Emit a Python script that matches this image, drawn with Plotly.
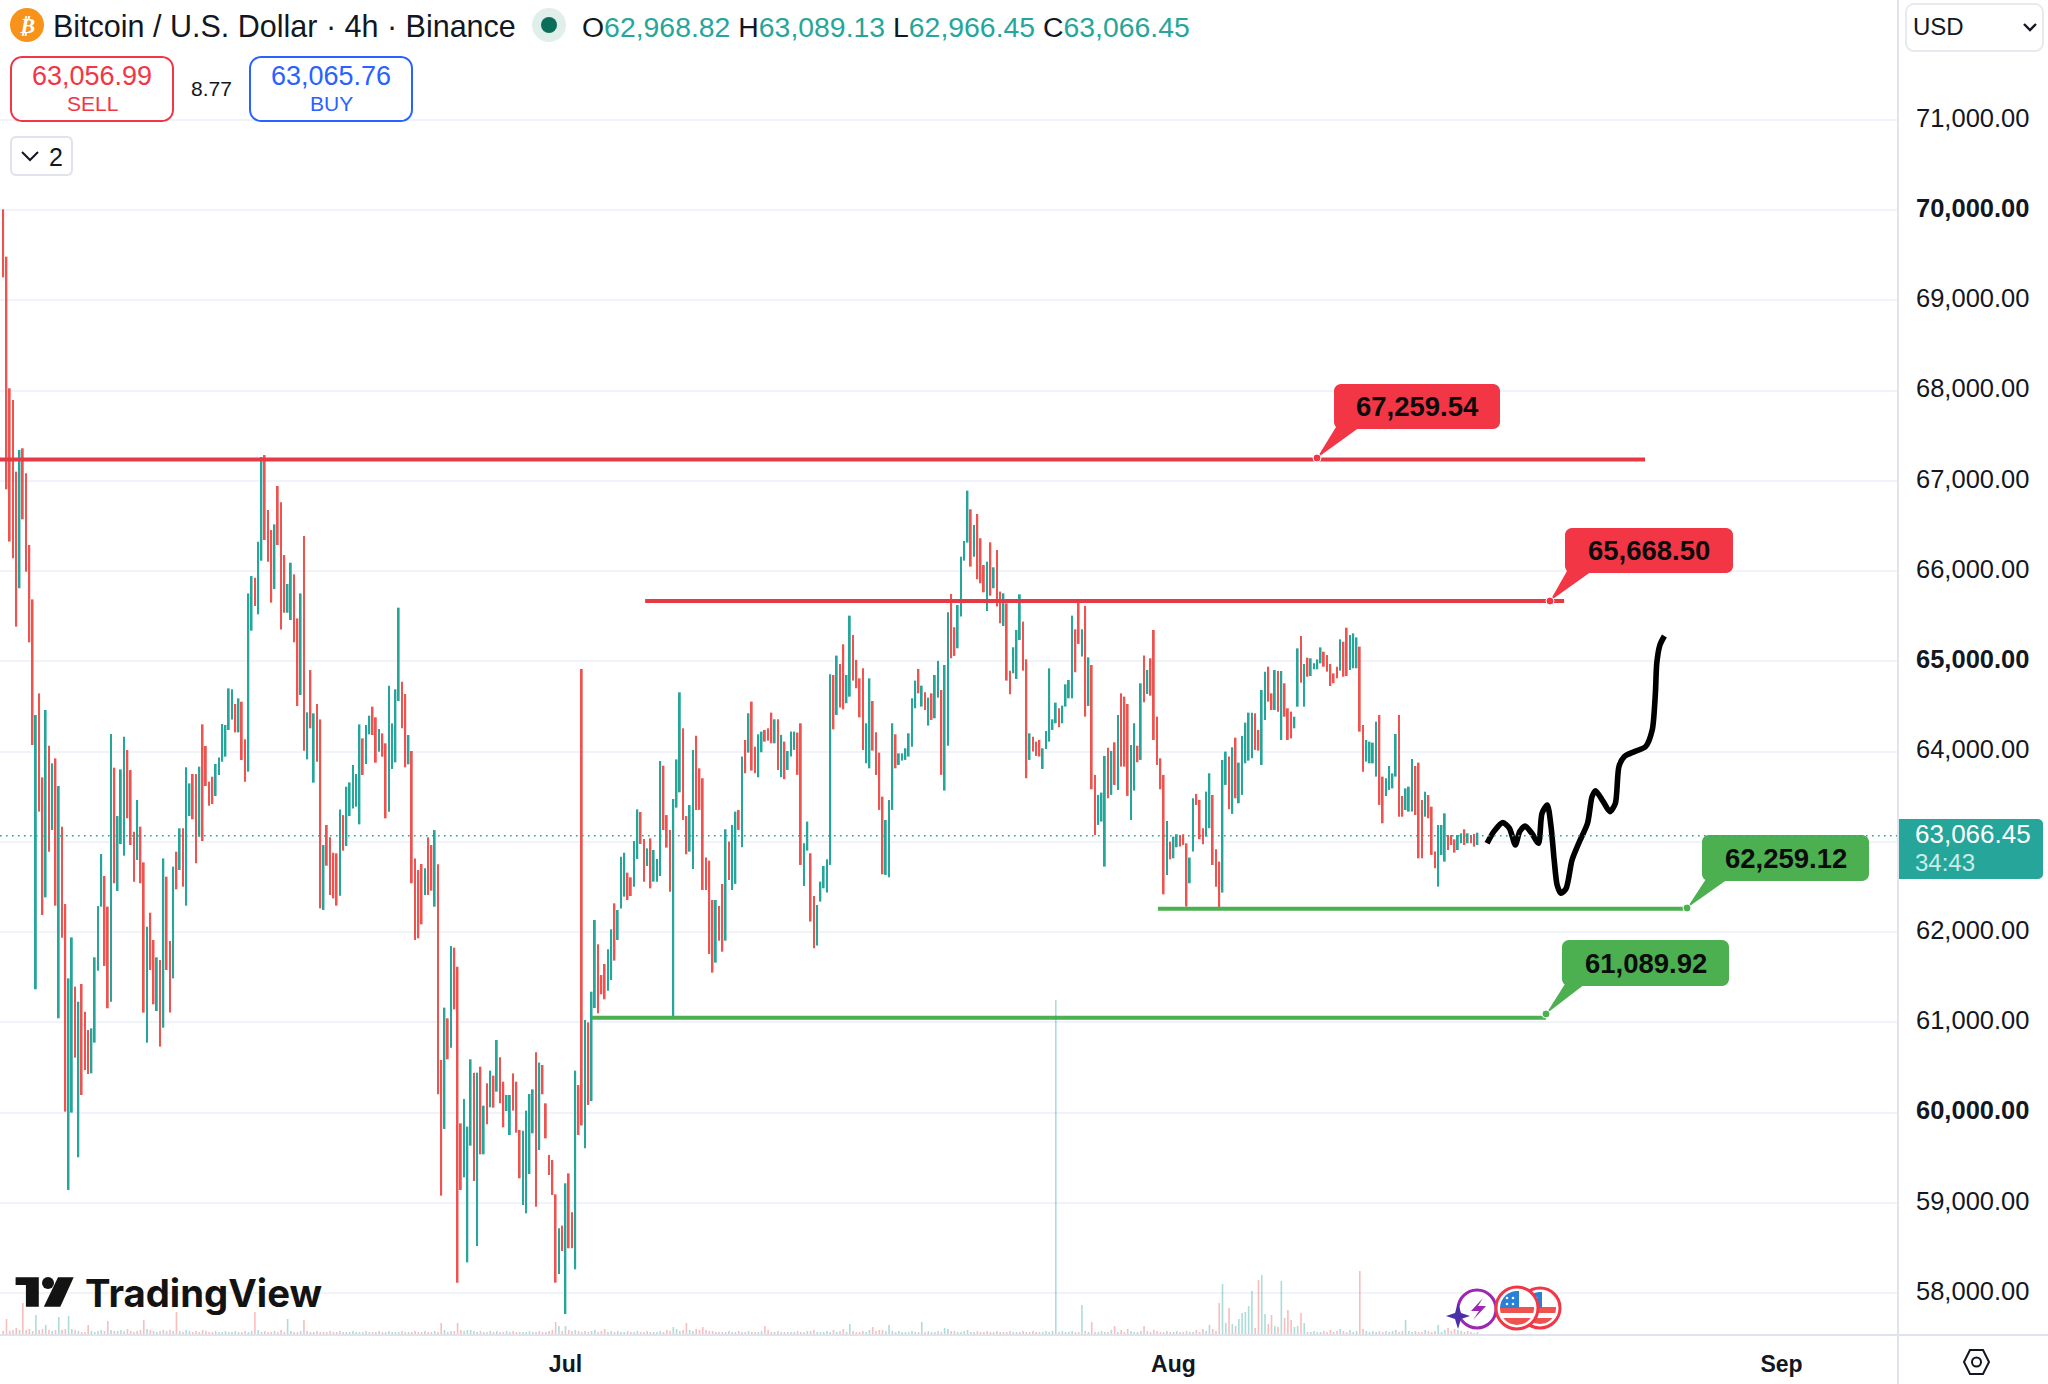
import math
from datetime import timedelta
import pandas as pd
import plotly.graph_objects as go

# ---------- data ----------
first_bar = "2024-06-02 08:00"
highs = [
70008,69483,68025,67895,67101,67341,67360,67083,66289,65686,
64404,64644,63714,64460,64065,63869,63924,63618,63167,62310,
61487,61941,61395,61228,61424,61118,60914,60933,61720,62288,
62864,62621,62281,64194,63821,63285,63802,64164,64017,63795,
63112,63463,63167,62772,62059,62214,61912,61720,61690,62816,
62613,61900,62724,62890,63149,63149,63825,63647,63751,63751,
63832,64301,64061,63666,63721,63862,63935,64305,64294,64700,
64689,64526,64589,64552,64135,65752,65944,65926,66325,67263,
67285,66676,66454,66517,66942,66761,66177,65856,66092,65963,
65475,65752,66388,64434,64903,64423,64526,64356,62964,63186,
63049,62879,62872,63359,63296,63610,63658,63850,63751,64301,
64146,64294,64397,64497,64379,64249,64201,64091,64729,64312,
64689,65594,64774,64637,64183,64006,62816,62687,62754,62706,
63049,62964,63130,62750,60582,61162,61044,61845,61827,61616,
59880,60150,59844,60590,60442,60442,60508,60076,60324,60464,
60409,60804,60612,60342,60194,60194,60434,60342,59807,59799,
60021,60205,60257,60667,60553,60527,60102,59530,59474,59094,
58717,58747,59216,59326,58894,60464,60305,64914,61025,60999,
61339,62133,61864,61524,61646,61808,62030,62318,62244,62835,
62879,62658,62606,63008,63359,63330,63031,62927,63038,62909,
62809,63895,63843,63296,63130,63474,63913,64656,64257,63285,
63407,64017,64175,63814,63704,62825,62791,62355,62355,62288,
62532,63139,63002,63187,63334,63353,63944,64128,64424,64553,
64054,64191,64221,64239,64257,64431,64357,64357,64184,64110,
64006,64221,64221,64210,64313,62984,63224,62873,62400,62300,
62559,62732,62806,64856,64848,65063,64970,65188,64848,65506,
65292,65015,64811,64922,64313,64811,64560,64213,63988,63500,
63242,63464,64313,64191,63980,63980,64036,64202,64590,64786,
64915,64730,64656,64597,64645,64848,65004,64682,64959,65543,
65746,65377,65624,66159,66333,66891,66684,66510,66632,66363,
66067,66104,66318,66041,66233,65772,65753,65642,64896,65155,
65347,65742,65439,65022,64202,64165,64110,64128,64036,64228,
64922,64357,64542,64479,64509,64745,64793,65506,65354,65653,
65354,65613,65044,64959,63741,63519,63545,63951,64043,64006,
64102,64405,64645,64608,64527,64073,64313,64065,64756,65063,
64904,65033,65347,64387,63925,63741,63231,63002,63057,63083,
63076,63083,62983,62825,63482,63530,63464,63150,63556,63759,
63519,62917,62780,63907,63999,63944,64047,64154,63877,64173,
64320,64431,64431,64424,64239,64682,64885,64940,64645,64903,
64892,64892,64756,64479,64442,64386,65143,65280,64970,65040,
65033,64977,65021,65154,65106,65069,64970,64866,64940,65243,
65217,65372,65291,65310,65265,65162,64294,64128,64109,64098,
64331,64405,63722,63703,63840,63758,64194,64405,63507,63592,
63611,63917,63840,63877,63463,63555,63518,63389,62891,63186,
63186,63315,63075,63075,63027,63075,63094,63138,63094,63075,
63086,63101]
lows = [
69254,66905,66326,66141,65384,65809,66573,65993,65210,64072,
61365,63334,62189,62384,62890,63130,62292,61044,61937,60010,
59142,59999,60608,59504,60194,60471,60427,60434,60774,61572,
62281,61624,61155,61228,62540,62455,62975,62846,63260,62964,
62558,62798,62540,61107,60774,61579,61199,61125,60730,60940,
61579,61107,61487,62473,62687,62503,62292,63285,63249,62761,
63056,63008,63618,63400,63418,63507,63740,63887,63943,64238,
64356,64212,64212,63906,63666,63777,65339,65612,65520,66114,
66343,66103,65649,65800,66288,65353,65538,65538,65457,65210,
64504,64626,64009,63913,64257,63655,63887,62262,62244,62735,
62410,62373,62292,62403,62901,62953,63285,63370,63389,63193,
63740,63862,64190,64183,63876,63998,63943,63260,63334,63806,
63880,64560,64257,63825,63858,62540,61912,61930,62085,62410,
62410,62458,62281,60202,59079,59818,60590,60719,61143,58115,
59142,59282,58340,59633,59242,58521,59537,59537,59869,60058,
60054,60231,60102,59836,60017,59751,60021,59777,59271,58976,
58883,59319,59770,58957,59585,60202,59714,59308,59086,58115,
58211,58466,57768,58496,58496,58263,59751,59855,59603,60084,
60128,61158,61099,61310,61254,61350,61469,61683,61912,62262,
62392,62355,62399,62503,62809,62975,62558,62732,62484,62558,
62558,62621,63130,62935,62447,61044,63378,63548,63241,62861,
62890,62698,63352,63353,62466,62466,61757,61550,61661,61904,
61782,61904,62577,62466,62533,63131,62939,63759,63988,63789,
63759,63715,63992,64110,64121,64091,64091,63796,63715,63693,
63796,63944,64018,63741,62743,62511,62902,62116,61820,61850,
62337,62485,62437,62743,64246,64405,64487,64468,64535,64608,
64786,64701,64379,64018,63870,63814,64010,63741,63353,62640,
62633,62607,63353,63814,63851,63899,63907,63944,64054,64479,
64645,64498,64461,64287,64350,64368,64597,63741,63567,64065,
65033,65059,65144,65495,66115,66315,66049,66159,65908,65864,
65764,65557,65727,65809,65606,65421,65391,64786,64634,64867,
64804,65236,64896,63704,63907,63999,63951,63944,63807,64029,
64110,64239,64313,64269,64313,64498,64590,64590,64878,65192,
65052,64387,64505,63582,63076,63187,63224,62725,63482,63519,
63630,63574,63833,63833,63508,63242,63567,63881,63907,64545,
64638,64619,64128,63851,63582,62418,62633,62806,62817,62939,
62947,62965,62282,62540,62891,63408,63028,62973,63057,63150,
62743,62503,62245,62437,63630,63360,63309,63482,63427,63519,
63870,63899,63925,64018,64010,63851,64349,64553,64460,64460,
64442,64128,64386,64128,64146,64257,64497,64763,64497,64829,
64837,64911,64911,64977,64940,64885,64726,64756,64811,64896,
64829,64837,64903,64922,64922,64220,63777,63888,63869,63869,
63722,63408,63205,63507,63574,63592,63722,63278,63278,63352,
63334,63334,63297,62817,62817,63278,63260,62854,62706,62503,
62854,62780,62909,62964,62880,62909,62983,62964,62983,62983,
62946,62964]
directions = (
"rrrrrtrrrr" "trrtrtrtrr" "ttrtrrrttt" "trrtrtttrr" "rtrrtrrtrt"
"rrtrtrttrr" "trrrrttttt" "trtrrttrtt" "rrrtrrrttr" "rtrtrtrrtr"
"rrrtrttttt" "rttrrtrrtt" "ttrrtrrrrt" "rrtrrtrtrr" "rtttrtrtrt"
"rtrrttrrrt" "tttrtrrrrr" "trtrrtrrtr" "ttrrrttrtt" "trrttrrtrt"
"ttrrrtttrr" "ttrrrrrrtr" "rtrttrtrtr" "rttrrrtrtr" "tttrrttrrt"
"ttttrtrrtt" "rrrrttrrrr" "tttrtttttt" "rtrtrttrtt" "rrttttrtrr"
"rtrtrrtrrt" "ttrrtrrrtt" "tttrttttrr" "trtrrtttrt" "rtrrrttrtr"
"trrrrrtrtt" "rrrttrrrtt" "rrrttrtrtt" "tttrrttrrt" "rtrrrttrtr"
"ttttrrrrrt" "rrtttrrttt" "trrttttrrt" "ttrrrtrrrt" "ttrrrttrtr"
"rt")
volumes = [
4,16,4,5,7,5,32,5,6,4,20,5,6,10,5,4,5,18,5,6,
19,6,5,4,3,3,10,4,3,4,5,4,14,5,4,4,5,4,6,4,
3,4,5,15,6,5,4,3,4,5,4,5,4,23,4,3,5,4,3,4,
3,5,4,3,3,4,3,3,4,3,3,4,3,3,4,3,4,23,5,3,
4,3,3,4,3,5,3,16,4,3,3,4,15,4,3,3,4,3,3,3,
4,3,3,4,3,3,3,4,3,3,3,4,3,3,3,4,3,3,4,3,
3,3,4,3,3,3,4,3,3,4,3,3,4,3,12,5,3,4,4,12,
5,4,5,5,4,3,4,3,3,4,3,4,3,3,4,3,4,3,3,3,
3,4,3,3,4,3,3,4,5,13,9,4,9,5,4,5,4,3,4,3,
4,5,3,4,6,3,4,3,4,3,3,4,3,3,4,3,3,4,3,3,
3,4,3,5,4,8,6,4,5,12,5,4,6,5,8,5,4,4,3,3,
3,3,4,3,3,4,3,3,4,3,3,3,4,9,5,3,3,4,3,3,
3,3,3,4,3,3,4,4,5,3,3,3,4,3,5,3,4,6,3,11,
4,3,3,4,3,5,8,4,5,5,4,10,4,3,4,3,3,3,4,3,
3,13,3,4,3,3,4,3,7,6,4,4,3,3,4,5,3,3,4,3,
3,4,3,3,4,3,3,3,4,3,3,3,4,3,3,4,3,3,3,4,
3,4,335,3,4,3,3,4,3,3,30,4,3,13,3,3,4,3,3,5,
9,3,5,3,6,4,3,3,4,9,4,3,5,4,3,3,4,3,3,4,
3,3,4,3,3,5,3,6,4,10,6,4,32,51,12,27,11,9,16,22,
23,29,44,7,55,60,21,11,20,9,8,54,17,25,15,8,9,22,12,3,
3,4,3,3,4,3,5,3,4,6,4,3,5,3,4,64,6,4,3,4,
3,4,3,4,3,4,5,3,4,15,4,3,4,3,3,5,4,3,4,10,
3,5,7,4,6,5,4,3,4,3,2,3]

current_price = 63066.45
price_ticks = [58000,59000,60000,61000,62000,63000,64000,65000,66000,67000,68000,69000,70000,71000]
bold_ticks = [60000,65000,70000]
hidden_ticks = [63000]
month_ticks = ["2024-07-01","2024-08-01","2024-09-01"]
month_labels = ["Jul","Aug","Sep"]

level_prices = [67235, 65668, 62259, 61050]
level_starts = ["2024-06-01 12:00","2024-07-05 01:30","2024-07-31 05:00","2024-07-02 08:30"]
level_ends   = ["2024-08-25 01:00","2024-08-20 22:00","2024-08-27 03:00","2024-08-20 00:00"]
level_colors = ["#e63946","#e63946","#4caf50","#4caf50"]

brush_days = [46.99,47.33,47.79,48.13,48.43,48.65,48.93,49.27,49.61,49.79,50.06,50.25,50.41,50.56,50.75,51.02,
              51.32,51.66,52.11,52.34,52.52,52.91,53.25,53.53,53.71,53.98,54.50,55.07,55.41,55.57,55.64,55.80,56.03]
brush_prices = [62983,63112,63212,63149,62964,63112,63175,63094,62983,63315,63408,63168,62798,62521,62429,62484,
                62798,62983,63205,63500,63566,63445,63334,63426,63832,63943,63999,64054,64239,64645,64977,65180,65280]

# ---------- page geometry ----------
W, H = 2048, 1384
PW, PH = 1898, 1335
UP, DOWN = "#26a69a", "#ef5350"
RED, GREEN = "#f23645", "#4caf50"
INK = "#131722"
SANS = "Liberation Sans"
AXIS_LINE = "#e0e3eb"

dates = pd.date_range(first_bar, periods=len(highs), freq="4h")
jul1 = pd.Timestamp("2024-07-01")
colors = [UP if d == "t" else DOWN for d in directions]
vol_colors = ["rgba(38,166,154,0.38)" if d == "t" else "rgba(239,83,80,0.38)" for d in directions]
bar_ms = 4 * 3600 * 1000

def px(x): return x / PW
def py(y): return 1 - y / PH

fig = go.Figure()
fig.add_trace(go.Bar(x=dates, y=volumes, width=bar_ms * 0.5, marker=dict(color=vol_colors, line_width=0),
                     yaxis="y2", showlegend=False, name="Volume"))
fig.add_trace(go.Bar(x=dates, y=[h - l for h, l in zip(highs, lows)], base=lows, width=bar_ms * 0.55,
                     marker=dict(color=colors, line_width=0), showlegend=False, name="BTCUSD"))
for p, s, e, c in zip(level_prices, level_starts, level_ends, level_colors):
    fig.add_trace(go.Scatter(x=[s, e], y=[p, p], mode="lines", line=dict(color=c, width=4),
                             showlegend=False, hoverinfo="skip"))
fig.add_trace(go.Scatter(x=[jul1 + timedelta(days=d) for d in brush_days], y=brush_prices, mode="lines",
                         line=dict(color="#000000", width=5.6, shape="spline", smoothing=0.7),
                         showlegend=False, hoverinfo="skip"))

shapes, notes = [], []

def path_shape(points, fill, line=None, lw=0, close=True, layer="above"):
    d = "M " + " L ".join(f"{px(x):.5f} {py(y):.5f}" for x, y in points) + (" Z" if close else "")
    shapes.append(dict(type="path", xref="paper", yref="paper", path=d, fillcolor=fill, layer=layer,
                       line=dict(color=line or "rgba(0,0,0,0)", width=lw)))

def circle(cx, cy, r, fill, line=None, lw=0):
    shapes.append(dict(type="circle", xref="paper", yref="paper", x0=px(cx - r), x1=px(cx + r),
                       y0=py(cy + r), y1=py(cy - r), fillcolor=fill,
                       line=dict(color=line or "rgba(0,0,0,0)", width=lw)))

def round_pts(x0, y0, x1, y1, r, corners=(1, 1, 1, 1)):
    pts = []
    centers = [(x1 - r, y0 + r, -90), (x1 - r, y1 - r, 0), (x0 + r, y1 - r, 90), (x0 + r, y0 + r, 180)]
    for (cx, cy, a0), c in zip(centers, (corners[1], corners[2], corners[3], corners[0])):
        if c:
            for k in range(7):
                a = math.radians(a0 + 15 * k)
                pts.append((cx + r * math.cos(a), cy + r * math.sin(a)))
        else:
            qx = x1 if a0 in (-90, 0) else x0
            qy = y0 if a0 in (-90, 180) else y1
            pts.append((qx, qy))
    return pts

def round_box(x0, y0, x1, y1, r, fill, line=None, lw=0, layer="above", corners=(1, 1, 1, 1)):
    path_shape(round_pts(x0, y0, x1, y1, r, corners), fill, line, lw, True, layer)

def text(x, y, s, size=24, color=INK, anchor="left", family=SANS, va="middle"):
    notes.append(dict(xref="paper", yref="paper", x=px(x), y=py(y), text=s, showarrow=False, xanchor=anchor,
                      yanchor=va, font=dict(size=size, color=color, family=family), borderpad=0, borderwidth=0))

def callout(x0, y0, x1, y1, tail0, tail1, tip, fill, label):
    path_shape([(tail0, y1 - 2), (tail1, y1 - 2), tip], fill)
    round_box(x0, y0, x1, y1, 7, fill)
    circle(tip[0], tip[1], 4, fill, "#ffffff", 1)
    text((x0 + x1) / 2, (y0 + y1) / 2, f"<b>{label}</b>", 27.5, "#0c0c0c", "center")

# header cover, hides grid behind legend
shapes.append(dict(type="rect", xref="paper", yref="paper", x0=0, x1=px(424), y0=py(180), y1=py(0),
                   fillcolor="#ffffff", line_width=0, layer="between"))

# callouts
callout(1334, 384, 1500, 429, 1336, 1360, (1317, 458), RED, "67,259.54")
callout(1565, 528, 1733, 573, 1567, 1592, (1550, 601), RED, "65,668.50")
callout(1702, 835, 1869, 881, 1706, 1728, (1687, 908), GREEN, "62,259.12")
callout(1562, 940, 1729, 986, 1565, 1585, (1546, 1014), GREEN, "61,089.92")

# current price dotted line across the plot
shapes.append(dict(type="line", xref="paper", yref="y", x0=0, x1=1, y0=current_price, y1=current_price,
                   line=dict(color=UP, width=1.6, dash="1.6px,4.4px"), layer="above"))

# right and bottom frame lines
shapes.append(dict(type="line", xref="paper", yref="paper", x0=1, x1=1, y0=py(0), y1=py(H),
                   line=dict(color=AXIS_LINE, width=2)))
shapes.append(dict(type="line", xref="paper", yref="paper", x0=0, x1=px(W), y0=0, y1=0,
                   line=dict(color=AXIS_LINE, width=2)))

# legend header
circle(27, 25, 17, "#f7931a")
text(27, 25, "<b><i>₿</i></b>", 22, "#ffffff", "center", "DejaVu Sans")
text(53, 26, "Bitcoin / U.S. Dollar · 4h · Binance", 30.5)
circle(549, 25, 17, "#e0efea")
circle(549, 25, 8, "#0b6e5a")
tv = lambda s: f'<span style="color:#26a69a">{s}</span>'
text(582, 27, "O" + tv("62,968.82") + " H" + tv("63,089.13") + " L" + tv("62,966.45") + " C" + tv("63,066.45"), 28.4)

round_box(11, 57, 173, 121, 11, "#ffffff", RED, 2)
text(92, 76, "63,056.99", 27, RED, "center")
text(92, 103, "SELL", 21, RED, "center")
text(211, 89, "8.77", 21, INK, "center")
round_box(250, 57, 412, 121, 11, "#ffffff", "#2962ff", 2)
text(331, 76, "63,065.76", 27, "#2962ff", "center")
text(331, 103, "BUY", 21, "#2962ff", "center")
round_box(11, 137, 72, 175, 5, "#ffffff", AXIS_LINE, 2)
path_shape([(22, 152), (30, 160), (38, 152)], "rgba(0,0,0,0)", INK, 2, False)
text(56, 157, "2", 25, INK, "center")

# USD selector
round_box(1906, 4, 2043, 51, 8, "#ffffff", "#e8eaf0", 2)
text(1913, 27, "USD", 24)
path_shape([(2024, 24), (2030, 30), (2036, 24)], "rgba(0,0,0,0)", INK, 2.4, False)

# last-price tag
round_box(1899, 819, 2043, 879, 5, UP, corners=(0, 1, 1, 0))
text(1915, 834, "63,066.45", 26, "#ffffff")
text(1915, 862, "34:43", 24, "#c8ece8")

# settings hexagon
path_shape([(1964, 1362), (1970, 1350), (1983, 1350), (1989, 1362), (1983, 1374), (1970, 1374)],
           "rgba(0,0,0,0)", INK, 2)
circle(1976.5, 1362, 4.5, "rgba(0,0,0,0)", INK, 2)

# TradingView mark
path_shape([(15.6, 1277.3), (38.8, 1277.3), (38.8, 1306.7), (25.9, 1306.7), (25.9, 1285), (15.6, 1285)], "#131313")
circle(48, 1283, 6, "#131313")
path_shape([(73.7, 1277.3), (58, 1277.3), (43.8, 1306.7), (60.3, 1306.7)], "#131313")
text(85, 1293, "<b>TradingView</b>", 38.3, "#131313", "left", "Inter")

# event icons
def flag(cx, cy, r):
    circle(cx, cy, r, "#ffffff", RED, 3)
    inner = r - 4
    def band(y0, y1, fill):
        left, right = [], []
        for k in range(9):
            y = y0 + (y1 - y0) * k / 8
            w = math.sqrt(max(inner ** 2 - (y - cy) ** 2, 0))
            right.append((cx + w, y))
            left.append((cx - w, y))
        path_shape(right + left[::-1], fill)
    band(cy - 1, cy + 5, "#ef5350")
    band(cy + 10, cy + inner, "#ef5350")
    pts = [(cx + 2, cy)] + [(cx + 2, cy - math.sqrt(inner ** 2 - 4))]
    for k in range(8):
        a = math.radians(-95 - 85 * k / 7)
        pts.append((cx + inner * math.cos(a), cy + inner * math.sin(a)))
    path_shape(pts, "#2a7fd6")
    for dx, dy in [(-10, -4), (-4, -4), (-10, -10), (-4, -10)]:
        circle(cx + dx, cy + dy, 1.3, "#ffffff")

circle(1477, 1309, 19, "#ffffff", "#9c27b0", 3)
path_shape([(1483, 1298), (1471, 1311), (1479, 1311), (1473, 1320), (1486, 1306), (1478, 1306)], "#9c27b0")
path_shape([(1458, 1303), (1461, 1313), (1470, 1316), (1461, 1319), (1458, 1329), (1455, 1319), (1446, 1316), (1455, 1313)], "#4a2fa8")
flag(1540, 1308, 20)
flag(1517, 1308, 21)

# ---------- layout ----------
tick_labels = ["" if v in hidden_ticks else (f"<b>{v:,.2f}</b>" if v in bold_ticks else f"{v:,.2f}") for v in price_ticks]
x_start = jul1 + timedelta(days=-28.83)
x_end = jul1 + timedelta(days=67.94)

fig.update_layout(
    width=W, height=H, margin=dict(l=0, r=W - PW, t=0, b=H - PH),
    paper_bgcolor="#ffffff", plot_bgcolor="#ffffff", barmode="overlay", showlegend=False,
    font=dict(family=SANS, color=INK),
    xaxis=dict(type="date", range=[x_start, x_end], tickmode="array", tickvals=month_ticks,
               ticktext=[f"<b>{m}</b>" for m in month_labels], showgrid=False, zeroline=False, showline=False,
               ticks="", ticklabelstandoff=13, tickfont=dict(size=23, color=INK, family=SANS)),
    yaxis=dict(side="right", range=[57535, 72327], tickmode="array", tickvals=price_ticks, ticktext=tick_labels,
               showgrid=True, gridcolor="#f0f3fa", gridwidth=2, zeroline=False, showline=False, ticks="",
               ticklabelstandoff=17, ticklabelshift=-2, tickfont=dict(size=25.5, color=INK, family=SANS)),
    yaxis2=dict(overlaying="y", side="right", range=[0, PH], visible=False),
    shapes=shapes, annotations=notes,
)

fig.write_html("out.html", config={"displayModeBar": False},
               post_script="document.body.style.margin='0';document.body.style.overflow='hidden';")
